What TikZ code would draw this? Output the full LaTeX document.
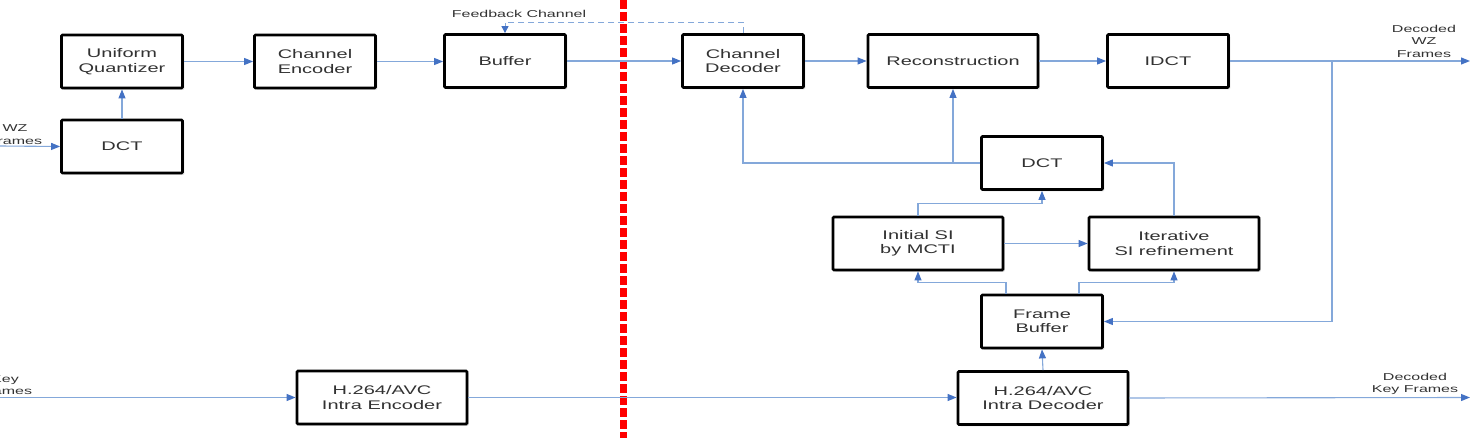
\documentclass[tikz,border=0pt]{standalone}
\usepackage{fontspec}
\setmainfont[FakeStretch=1.6]{Liberation Sans}
\usetikzlibrary{arrows.meta,shadows}
\definecolor{linkc}{RGB}{132,168,218}
\definecolor{tipc}{RGB}{68,114,196}
\definecolor{txtc}{RGB}{50,50,50}
\begin{document}
\begin{tikzpicture}[x=1pt,y=-1pt,
  blk/.style={draw=black, line width=2.8pt, rounded corners=1pt, fill=white,
    minimum width=121pt, minimum height=53pt, align=center, inner sep=0pt,
    font=\fontsize{12.5}{14.5}\selectfont, text=txtc,
    drop shadow={shadow xshift=1.8pt,shadow yshift=-1.8pt,opacity=0.25}},
  wideblk/.style={blk, minimum width=170pt},
  link/.style={draw=linkc, line width=1.1pt, -{Triangle[length=9pt,width=7pt,color=tipc]}},
  fbdash/.style={draw=linkc, line width=1pt, dash pattern=on 6pt off 4pt},
  lbl/.style={font=\fontsize{10}{12.5}\selectfont, text=txtc, align=center, inner sep=0pt},
  sepline/.style={draw=red, line width=6.5pt, dash pattern=on 9pt off 3pt}
]
\useasboundingbox (0,0) rectangle (1482,438);

% separator
\coordinate (sepTop) at (623.5,0);
\coordinate (sepBot) at (623.5,438);
\draw[sepline] (sepTop) -- (sepBot);

% encoder side
\node[blk] (uq)   at (122,61.5)  {Uniform\\Quantizer};
\node[blk] (dctL) at (122,146.5) {DCT};
\node[blk] (ce)   at (315,61.5)  {Channel\\Encoder};
\node[blk] (buf)  at (505,61)    {Buffer};
\node[wideblk] (enc) at (382,397.5) {H.264/AVC\\Intra Encoder};

% decoder side
\node[blk] (cd)   at (743,61)    {Channel\\Decoder};
\node[wideblk] (rec) at (953,61) {Reconstruction};
\node[blk] (idct) at (1168,61)   {IDCT};
\node[blk] (dctR) at (1042,163)  {DCT};
\node[wideblk] (isi) at (918,243.5)  {Initial SI\\by MCTI};
\node[wideblk] (itr) at (1174,243.5) {Iterative\\SI refinement};
\node[blk] (fb)   at (1042,321.5) {Frame\\Buffer};
\node[wideblk] (dec) at (1043,398) {H.264/AVC\\Intra Decoder};

% labels
\node[lbl] (wzin)  at (15,134.5) {WZ\\Frames};
\node[lbl] (keyin) at (5,385)    {Key\\Frames};
\node[lbl] (fblab) at (519,14)   {Feedback Channel};
\node[lbl] (wzout) at (1424,41)  {Decoded\\WZ\\Frames};
\node[lbl] (keyout) at (1415,384) {Decoded\\Key Frames};

% free ends
\coordinate (wzsrc)  at (0,146);
\coordinate (keysrc) at (0,397.5);
\coordinate (wzdst)  at (1470,61);
\coordinate (keydst) at (1470,397.5);
\coordinate (br)     at (1332,61);

% encoder connectors
\draw[link] (wzsrc) -- (dctL.west);
\draw[link] (dctL.north) -- (uq.south);
\draw[link] (uq.east) -- (ce.west);
\draw[link] (ce.east) -- (buf.west |- ce.east);
\draw[link] (buf.east) -- (cd.west);
\draw[link] (keysrc) -- (enc.west);
\draw[link] (enc.east) -- (dec.west |- enc.east);

% feedback
\draw[fbdash, -{Triangle[length=7pt,width=7pt,color=tipc]}] (cd.north) -- ++(0,-11) -| (buf.north);

% decoder connectors
\draw[link] (cd.east) -- (rec.west);
\draw[link] (rec.east) -- (idct.west);
\draw[link] (idct.east) -- (wzdst);
\draw[link] (br) |- (fb.east);
\draw[link] (dctR.west) -| (cd.south);
\draw[link] (rec.south |- dctR.west) -- (rec.south);
\draw[link] (itr.north) |- (dctR.east);
\draw[link] (isi.north) -- ++(0,-12) -| (dctR.south);
\draw[link] (isi.east) -- (itr.west);
\draw[link] ([xshift=-36pt]fb.north) -- ++(0,-11) -| (isi.south);
\draw[link] ([xshift=37pt]fb.north) -- ++(0,-11) -| (itr.south);
\draw[link] (dec.north) -- (fb.south);
\draw[link] (dec.east) -- (keydst);
\end{tikzpicture}
\end{document}
